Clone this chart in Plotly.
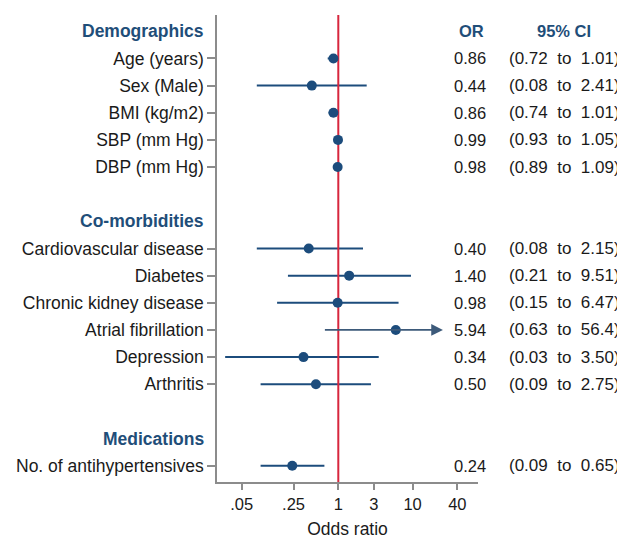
import math
import plotly.graph_objects as go

# ---- data ----
sections = ["Demographics", "Co-morbidities", "Medications"]
demo_labels = ["Age (years)", "Sex (Male)", "BMI (kg/m2)", "SBP (mm Hg)", "DBP (mm Hg)"]
demo_or = [0.86, 0.44, 0.86, 0.99, 0.98]
demo_lo = [0.72, 0.08, 0.74, 0.93, 0.89]
demo_hi = [1.01, 2.41, 1.01, 1.05, 1.09]

como_labels = ["Cardiovascular disease", "Diabetes", "Chronic kidney disease",
               "Atrial fibrillation", "Depression", "Arthritis"]
como_or = [0.40, 1.40, 0.98, 5.94, 0.34, 0.50]
como_lo = [0.08, 0.21, 0.15, 0.63, 0.03, 0.09]
como_hi = [2.15, 9.51, 6.47, 56.4, 3.50, 2.75]

med_labels = ["No. of antihypertensives"]
med_or = [0.24]
med_lo = [0.09]
med_hi = [0.65]

x_tickvals = [0.05, 0.25, 1, 3, 10, 40]
x_ticktext = [".05", ".25", "1", "3", "10", "40"]
arrow_cap = 25.6  # CI upper bounds beyond this are drawn as arrows

# ---- styling ----
BLUE = "#1c4c7c"
HEAD = "#1f4e79"
RED = "#d7263d"
GRAY = "#8c8c8c"
TXT = "#1a1a1a"
FONT = "Liberation Sans, Arial, sans-serif"
FS = 17.5
FSN = 16.5
FSC = 17

# page body has an 8px margin; the figure is sized to fill the rest of the window
OFF = 8
W, H = 625 - OFF, 539 - OFF
PL, PR, PT, PB = 217, 478, 15, 482   # plot-area edges in window pixels
PW = PR - PL


def px(xwin):
    return (xwin - PL) / PW


groups = [
    (sections[0], demo_labels, demo_or, demo_lo, demo_hi),
    (sections[1], como_labels, como_or, como_lo, como_hi),
    (sections[2], med_labels, med_or, med_lo, med_hi),
]

rows = []  # (y, label, or, lo, hi)
headers = []  # (y, text)
y = 0
for gi, (name, labs, ors, los, his) in enumerate(groups):
    headers.append((y, name))
    y += 1
    for lab, o, lo, hi in zip(labs, ors, los, his):
        rows.append((y, lab, o, lo, hi))
        y += 1
    y += 1  # blank spacer row

y_top = -0.6
y_bot = rows[-1][0] + 0.6

fig = go.Figure()

# CI lines (not capped)
lx, ly = [], []
for (yy, lab, o, lo, hi) in rows:
    if hi <= arrow_cap:
        lx += [lo, hi, None]
        ly += [yy, yy, None]
fig.add_trace(go.Scatter(x=lx, y=ly, mode="lines",
                         line=dict(color=BLUE, width=2), hoverinfo="skip",
                         showlegend=False))

# reference line at OR = 1
fig.add_trace(go.Scatter(x=[1, 1], y=[y_top, y_bot], mode="lines",
                         line=dict(color=RED, width=2), hoverinfo="skip",
                         showlegend=False))

annotations = []
# capped CIs drawn as arrows
for (yy, lab, o, lo, hi) in rows:
    if hi > arrow_cap:
        annotations.append(dict(
            x=math.log10(arrow_cap), y=yy, ax=math.log10(lo), ay=yy,
            xref="x", yref="y", axref="x", ayref="y",
            text="", showarrow=True, arrowhead=2, arrowsize=1.3,
            arrowwidth=1.8, arrowcolor="#3d5a7a", standoff=0))

# point estimates
fig.add_trace(go.Scatter(x=[r[2] for r in rows], y=[r[0] for r in rows],
                         mode="markers",
                         marker=dict(color=BLUE, size=10, line=dict(width=0)),
                         hoverinfo="skip", showlegend=False))

# section headers
for (yy, name) in headers:
    annotations.append(dict(x=px(206), y=yy, xref="paper", yref="y",
                            text="<b>%s</b>" % name, showarrow=False,
                            xanchor="right", yanchor="middle",
                            font=dict(family=FONT, size=FS, color=HEAD)))

# column headers
annotations.append(dict(x=px(471), y=headers[0][0], xref="paper", yref="y",
                        text="<b>OR</b>", showarrow=False, xanchor="center",
                        yanchor="middle",
                        font=dict(family=FONT, size=FSN, color=HEAD)))
annotations.append(dict(x=px(564), y=headers[0][0], xref="paper", yref="y",
                        text="<b>95% CI</b>", showarrow=False, xanchor="center",
                        yanchor="middle",
                        font=dict(family=FONT, size=FSN, color=HEAD)))

sp = "\u00a0\u00a0"
for (yy, lab, o, lo, hi) in rows:
    annotations.append(dict(x=px(488), y=yy, xref="paper", yref="y",
                            text="%.2f" % o, showarrow=False, xanchor="right",
                            yanchor="middle",
                            font=dict(family=FONT, size=FSN, color=TXT)))
    hi_txt = ("%.1f" % hi) if hi >= 10 else ("%.2f" % hi)
    annotations.append(dict(x=px(564), y=yy, xref="paper", yref="y",
                            text="(%.2f%sto%s%s)" % (lo, sp, sp, hi_txt),
                            showarrow=False, xanchor="center", yanchor="middle",
                            font=dict(family=FONT, size=FSC, color=TXT)))

fig.update_layout(
    width=W, height=H,
    margin=dict(l=PL - OFF, r=625 - PR, t=PT - OFF, b=539 - PB, pad=0),
    paper_bgcolor="white", plot_bgcolor="white",
    font=dict(family=FONT, size=FS, color=TXT),
    annotations=annotations,
    xaxis=dict(type="log", range=[math.log10(0.0233), math.log10(75.9)],
               tickvals=x_tickvals, ticktext=x_ticktext, automargin=False,
               showgrid=False, zeroline=False, showline=True,
               linecolor=GRAY, linewidth=1.5, ticks="outside", ticklen=6,
               tickcolor=GRAY, tickwidth=1.5,
               tickfont=dict(family=FONT, size=FSN, color=TXT),
               title=dict(text="Odds ratio", standoff=19,
                          font=dict(family=FONT, size=FS, color=TXT))),
    yaxis=dict(range=[y_bot, y_top], automargin=False,
               tickvals=[r[0] for r in rows], ticktext=[r[1] for r in rows],
               showgrid=False, zeroline=False, showline=True,
               linecolor=GRAY, linewidth=1.5, ticks="outside", ticklen=8,
               tickcolor=GRAY, tickwidth=1.5,
               tickfont=dict(family=FONT, size=FS, color=TXT)),
)

fig.write_html("out.html")
